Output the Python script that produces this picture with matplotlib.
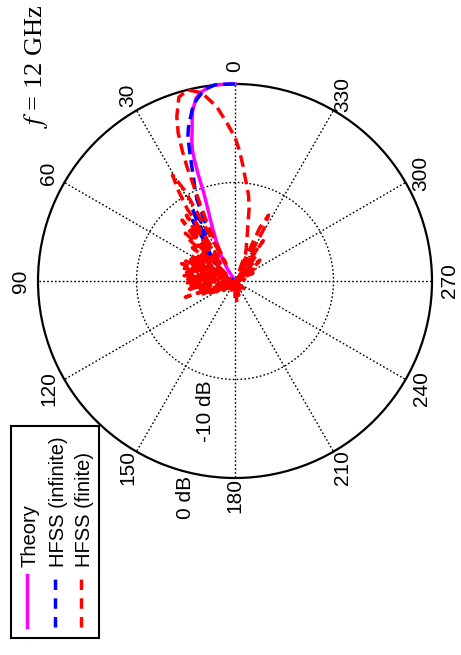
import numpy as np
import matplotlib
matplotlib.use("Agg")
import matplotlib.pyplot as plt
from matplotlib.lines import Line2D
from matplotlib.patches import Rectangle

plt.rcParams["font.family"] = ["Liberation Sans", "DejaVu Sans"]
plt.rcParams["mathtext.fontset"] = "stix"

# ---- data -------------------------------------------------------------
theta_ticks = [0, 30, 60, 90, 120, 150, 180, 210, 240, 270, 300, 330]
db_floor = -20.0
ring_db = [-10, 0]
ring_labels = ["-10 dB", "0 dB"]
series_names = ["Theory", "HFSS (infinite)", "HFSS (finite)"]
freq_label = r"$f$ = 12 GHz"

theory_deg = [0, 2, 4, 6, 8, 10, 12, 14, 15, 16, 17, 18, 18.5, 19,
              19.5, 20.5, 22, 23.3, 25, 27, 29.5, 32, 35]
theory_db = [0, 0, 0, 0, -0.2, -0.5, -1.0, -2.2, -3.2, -4.2, -5.0, -6.0,
             -7.0, -8.4, -10.5, -12.0, -13.4, -14.4, -15.5, -16.4, -17.3,
             -18.5, -20]

hfss_inf_deg = [0, 2, 4, 6, 8, 10, 12, 13.6, 15.6, 17, 18.1, 19.4, 20.7,
                22, 23.5, 25.1, 27.4, 29, 30.5, 32, 33.5, 35, 37, 40, 43,
                46, 50, 55, 60]
hfss_inf_db = [0, 0, 0, 0, -0.2, -0.6, -1.2, -1.8, -3.0, -3.8, -4.6, -6.2,
               -7.6, -8.8, -9.8, -10.9, -13.8, -14.5, -11.5, -12.5, -15,
               -12.5, -14.5, -15.5, -16.5, -15.5, -18, -17.5, -20]

hfss_fin_deg = [-90, -80, -72, -66, -62, -58, -55, -52, -50, -48,
                -45, -42, -40, -38, -35, -32, -29, -27, -25, -23,
                -21, -19, -17, -15, -13, -11, -9, -7, -5.5, -4,
                -2, 0, 3, 6, 10, 14, 17, 19.5, 21, 22,
                22.8, 23.5, 24.5, 26, 27.5, 29, 30.5, 32, 33.5, 35,
                36.5, 38, 39.5, 41, 42.5, 44, 46, 48, 50, 52,
                54, 56, 58, 60, 62, 64, 66, 68, 70, 72,
                74, 76, 78, 80, 82, 84, 86, 88, 90, 92,
                94, 96, 98, 100, 102, 104, 106, 108, 110, 112,
                114, 116, 118, 120, 125, 130, 135, 140, 150, 160,
                170, 180, 185, 190, 195, 200, 210, 220, 230, 240,
                255, 270]
hfss_fin_db = [-20, -19, -20, -18, -20, -17.5, -19.5, -17, -16.7, -19,
               -17.5, -20, -16.5, -19, -15, -19, -14, -12.5, -14, -19,
               -17, -16.5, -16, -15.2, -14.2, -12.5, -11.2, -10.2, -9.4, -8.3,
               -6.8, -5.4, -3.9, -2.2, -0.6, 0, -0.5, -2.3, -3.9, -5.7,
               -7.4, -9.5, -11.6, -14, -18, -9.5, -7.5, -9, -11.2, -17,
               -11.7, -13, -18, -11.8, -13.5, -18, -13, -13.9, -19, -14.5,
               -17, -15.5, -19, -14.8, -19, -15, -18.5, -14.6, -19.5, -14.3,
               -17.5, -14.5, -19, -15, -17.8, -14.8, -19.5, -15.2, -18, -14.9,
               -19, -15.5, -17.5, -15.3, -19.5, -16, -18.5, -14.7, -19, -16.5,
               -20, -17, -20, -17.8, -20, -18.5, -20, -19, -20, -19,
               -20, -18, -17.8, -20, -18.5, -20, -19, -20, -18.8, -20,
               -20, -20]

# ---- figure -----------------------------------------------------------
W, H = 461, 655
fig = plt.figure(figsize=(W / 100, H / 100), dpi=100)
cx, cy, R = 235, 281, 197
ax = fig.add_axes([(cx - R) / W, 1 - (cy + R) / H, 2 * R / W, 2 * R / H],
                  projection="polar")
ax.set_theta_zero_location("N")
ax.set_theta_direction(1)
rmax = -db_floor
ax.set_ylim(0, rmax)
ax.set_thetagrids(theta_ticks, labels=[""] * len(theta_ticks))
ax.set_rgrids([ring_db[0] - db_floor], labels=[""])
ax.grid(True, color="k", linestyle=(0, (1.2, 1.6)), linewidth=1.0)
ax.spines["polar"].set_linewidth(1.6)
ax.tick_params(length=0)


def to_r(db):
    return np.clip(np.asarray(db, dtype=float) - db_floor, 0, None)


dash = (0, (3.4, 1.7))
lw = 2.5
ax.plot(np.deg2rad(theory_deg), to_r(theory_db), color="#ff00ff", lw=lw,
        clip_on=False, zorder=3)
ax.plot(np.deg2rad(hfss_inf_deg), to_r(hfss_inf_db), color="#0000ff", lw=lw,
        ls=dash, clip_on=False, zorder=4)
ax.plot(np.deg2rad(hfss_fin_deg), to_r(hfss_fin_db), color="#ff0000", lw=lw,
        ls=dash, clip_on=False, zorder=5)

# angle labels, rotated with the page
for t in theta_ticks:
    ax.text(np.deg2rad(t), rmax * 1.091, str(t), rotation=90,
            ha="center", va="center", fontsize=15)

# ring labels
ring_r = [13.6, 22.5]
for lab, rr in zip(ring_labels, ring_r):
    ax.text(np.deg2rad(167.1), rr, lab, rotation=90, ha="center",
            va="center", fontsize=15)

# frequency note
fig.text(36 / W, 1 - 128 / H, freq_label, rotation=90, ha="center",
         va="bottom", fontsize=19, family=["Liberation Serif"])

# legend box
fig.add_artist(Rectangle((11 / W, 1 - 638 / H), 88 / W, 212 / H,
                         transform=fig.transFigure, fill=False, lw=1.5,
                         ec="k"))
leg_x = [27, 55, 81]
leg_style = [("#ff00ff", "-"), ("#0000ff", (0, (3.0, 2.4))),
             ("#ff0000", (0, (3.0, 2.4)))]
for name, x, (c, ls) in zip(series_names, leg_x, leg_style):
    fig.add_artist(Line2D([x / W, x / W], [1 - 627 / H, 1 - 575 / H],
                          transform=fig.transFigure, color=c, lw=lw, ls=ls))
    fig.text((x + 3) / W, 1 - 567 / H, name, rotation=90, ha="center",
             va="bottom", fontsize=14.5)

fig.savefig("out.png", dpi=100)
